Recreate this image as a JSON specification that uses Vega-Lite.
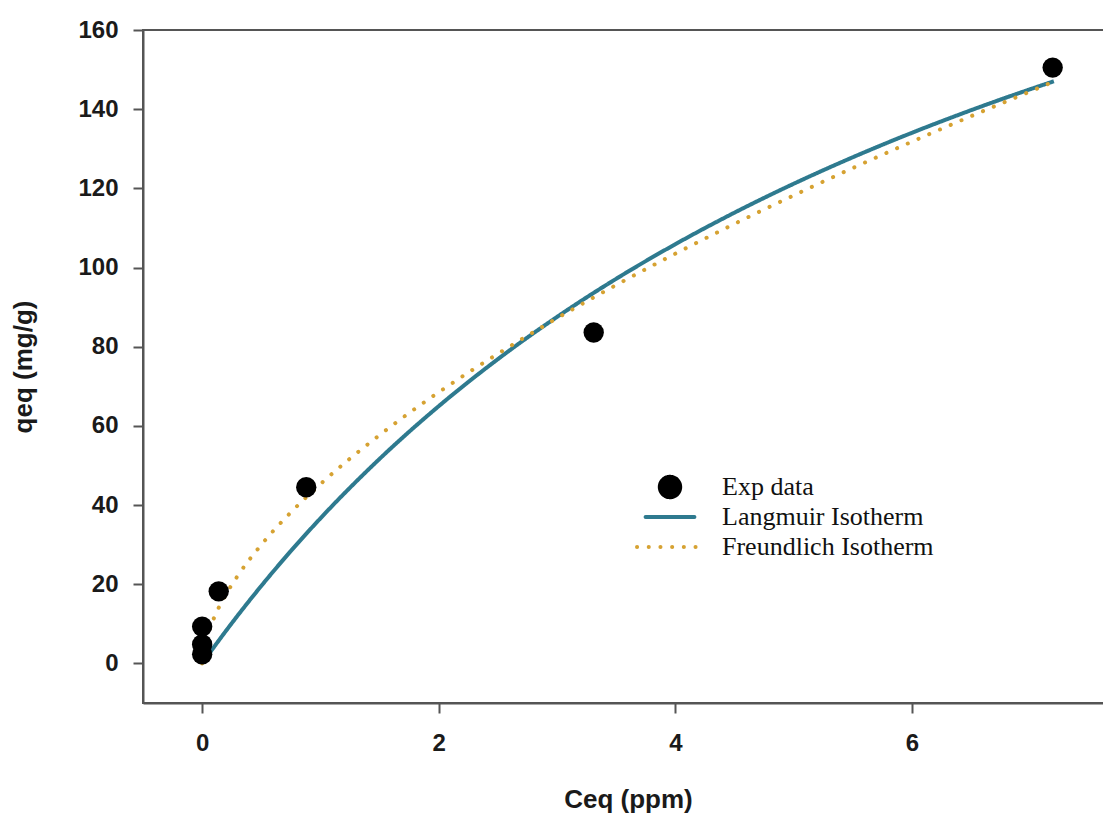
{
  "$schema": "https://vega.github.io/schema/vega-lite/v6.json",
  "width": 970,
  "height": 673,
  "autosize": {"type": "none"},
  "padding": {"left": 143, "top": 30, "right": 0, "bottom": 117},
  "background": "white",
  "config": {
    "view": {"stroke": "#555555", "strokeWidth": 2},
    "axis": {
      "grid": false,
      "domainColor": "#555555",
      "domainWidth": 2,
      "tickColor": "#555555",
      "tickWidth": 2,
      "tickSize": 10,
      "labelFont": "Liberation Sans",
      "labelFontWeight": "bold",
      "labelFontSize": 24,
      "labelColor": "#1a1a1a",
      "titleFont": "Liberation Sans",
      "titleFontWeight": "bold",
      "titleFontSize": 26,
      "titleColor": "#1a1a1a"
    }
  },
  "datasets": {
    "exp": [
      {"C": 0.0, "q": 2.3, "series": "Exp data"},
      {"C": 0.0, "q": 4.8, "series": "Exp data"},
      {"C": 0.0, "q": 9.3, "series": "Exp data"},
      {"C": 0.14, "q": 18.2, "series": "Exp data"},
      {"C": 0.88, "q": 44.5, "series": "Exp data"},
      {"C": 3.31, "q": 83.6, "series": "Exp data"},
      {"C": 7.19, "q": 150.5, "series": "Exp data"}
    ],
    "lang": [
      {"C": 0, "q": 0, "series": "Langmuir Isotherm"},
      {"C": 0.05, "q": 2.09, "series": "Langmuir Isotherm"},
      {"C": 0.1, "q": 4.14, "series": "Langmuir Isotherm"},
      {"C": 0.25, "q": 10.14, "series": "Langmuir Isotherm"},
      {"C": 0.5, "q": 19.58, "series": "Langmuir Isotherm"},
      {"C": 0.75, "q": 28.4, "series": "Langmuir Isotherm"},
      {"C": 1, "q": 36.65, "series": "Langmuir Isotherm"},
      {"C": 1.5, "q": 51.67, "series": "Langmuir Isotherm"},
      {"C": 2, "q": 64.98, "series": "Langmuir Isotherm"},
      {"C": 2.5, "q": 76.86, "series": "Langmuir Isotherm"},
      {"C": 3, "q": 87.52, "series": "Langmuir Isotherm"},
      {"C": 3.5, "q": 97.15, "series": "Langmuir Isotherm"},
      {"C": 4, "q": 105.89, "series": "Langmuir Isotherm"},
      {"C": 4.5, "q": 113.86, "series": "Langmuir Isotherm"},
      {"C": 5, "q": 121.15, "series": "Langmuir Isotherm"},
      {"C": 5.5, "q": 127.85, "series": "Langmuir Isotherm"},
      {"C": 6, "q": 134.03, "series": "Langmuir Isotherm"},
      {"C": 6.5, "q": 139.74, "series": "Langmuir Isotherm"},
      {"C": 7, "q": 145.04, "series": "Langmuir Isotherm"},
      {"C": 7.2, "q": 147.05, "series": "Langmuir Isotherm"}
    ],
    "freu": [
      {"C": 0, "q": 0, "series": "Freundlich Isotherm"},
      {"C": 0.01, "q": 2.91, "series": "Freundlich Isotherm"},
      {"C": 0.03, "q": 5.6, "series": "Freundlich Isotherm"},
      {"C": 0.05, "q": 7.6, "series": "Freundlich Isotherm"},
      {"C": 0.1, "q": 11.48, "series": "Freundlich Isotherm"},
      {"C": 0.2, "q": 17.36, "series": "Freundlich Isotherm"},
      {"C": 0.3, "q": 22.1, "series": "Freundlich Isotherm"},
      {"C": 0.5, "q": 29.97, "series": "Freundlich Isotherm"},
      {"C": 0.75, "q": 38.16, "series": "Freundlich Isotherm"},
      {"C": 1, "q": 45.3, "series": "Freundlich Isotherm"},
      {"C": 1.5, "q": 57.68, "series": "Freundlich Isotherm"},
      {"C": 2, "q": 68.5, "series": "Freundlich Isotherm"},
      {"C": 2.5, "q": 78.21, "series": "Freundlich Isotherm"},
      {"C": 3, "q": 87.19, "series": "Freundlich Isotherm"},
      {"C": 3.5, "q": 95.58, "series": "Freundlich Isotherm"},
      {"C": 4, "q": 103.5, "series": "Freundlich Isotherm"},
      {"C": 4.5, "q": 111.03, "series": "Freundlich Isotherm"},
      {"C": 5, "q": 118.22, "series": "Freundlich Isotherm"},
      {"C": 5.5, "q": 125.13, "series": "Freundlich Isotherm"},
      {"C": 6, "q": 131.79, "series": "Freundlich Isotherm"},
      {"C": 6.5, "q": 138.23, "series": "Freundlich Isotherm"},
      {"C": 7, "q": 144.48, "series": "Freundlich Isotherm"},
      {"C": 7.2, "q": 147.0, "series": "Freundlich Isotherm"}
    ]
  },
  "encoding": {
    "x": {
      "field": "C", "type": "quantitative",
      "scale": {"domain": [-0.5, 7.7], "nice": false, "zero": false},
      "axis": {"values": [0, 2, 4, 6], "labelPadding": 18, "title": "Ceq (ppm)", "titlePadding": 31}
    },
    "y": {
      "field": "q", "type": "quantitative",
      "scale": {"domain": [-10, 160], "nice": false, "zero": false},
      "axis": {"values": [0, 20, 40, 60, 80, 100, 120, 140, 160], "labelPadding": 15, "title": "qeq (mg/g)", "titlePadding": 41}
    },
    "color": {
      "field": "series", "type": "nominal",
      "scale": {"domain": ["Exp data", "Langmuir Isotherm", "Freundlich Isotherm"], "range": ["#000000", "#2e7a8f", "#d6a232"]},
      "legend": {
        "title": null,
        "orient": "none",
        "legendX": 492,
        "legendY": 442,
        "padding": 0,
        "labelFont": "Liberation Serif",
        "labelFontSize": 26,
        "labelColor": "#111111",
        "labelOffset": 17,
        "labelLimit": 400,
        "rowPadding": 0,
        "clipHeight": 30,
        "symbolStrokeWidth": 4,
        "encode": {
          "symbols": {
            "update": {
              "fill": {"scale": "color", "field": "value"},
              "stroke": {"signal": "datum.value === 'Exp data' ? 'transparent' : scale('color', datum.value)"},
              "strokeCap": {"value": "round"}
            }
          }
        }
      }
    },
    "shape": {
      "field": "series", "type": "nominal",
      "scale": {"domain": ["Exp data", "Langmuir Isotherm", "Freundlich Isotherm"], "range": ["circle", "stroke", "stroke"]}
    },
    "strokeDash": {
      "field": "series", "type": "nominal",
      "scale": {"domain": ["Exp data", "Langmuir Isotherm", "Freundlich Isotherm"], "range": [[1, 0], [1, 0], [0.1, 11.6]]}
    }
  },
  "layer": [
    {
      "data": {"name": "lang"},
      "mark": {"type": "line", "strokeWidth": 4, "interpolate": "monotone"}
    },
    {
      "data": {"name": "freu"},
      "mark": {"type": "line", "strokeWidth": 4, "strokeCap": "round", "interpolate": "monotone"}
    },
    {
      "data": {"name": "exp"},
      "mark": {"type": "point", "filled": true, "opacity": 1},
      "encoding": {
        "size": {
          "field": "series", "type": "nominal",
          "scale": {"domain": ["Exp data", "Langmuir Isotherm", "Freundlich Isotherm"], "range": [415, 4356, 4356]}
        }
      }
    }
  ]
}
